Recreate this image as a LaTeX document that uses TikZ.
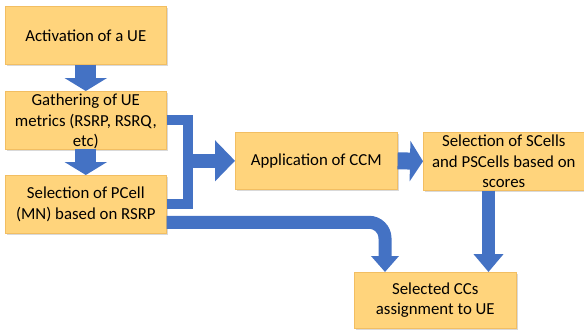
\documentclass[tikz,border=0pt]{standalone}
\usepackage{fontspec}
\setmainfont{Carlito}
\usetikzlibrary{arrows.meta,shadows,calc}
\definecolor{boxfill}{HTML}{FFD47C}
\definecolor{boxline}{HTML}{F2BE62}
\definecolor{arrowblue}{HTML}{4472C4}
\begin{document}
\begin{tikzpicture}[x=1pt,y=-1pt,
  box/.style={draw=boxline, line width=0.6pt, fill=boxfill, anchor=north west,
    inner sep=0pt, align=center, font=\fontsize{16.8}{20.5}\selectfont,
    drop shadow={shadow xshift=1.5pt, shadow yshift=-1.8pt, opacity=0.3}},
  flow/.style={draw=arrowblue, line cap=butt, line join=miter}
]
\useasboundingbox (0,0) rectangle (584,335);
\node[box, minimum width=161pt, minimum height=58pt] (act) at (5,6) {Activation of a UE};
\node[box, minimum width=161pt, minimum height=57pt] (gat) at (5,91) {\strut\\[-20.5pt]Gathering of UE\\metrics (RSRP, RSRQ,\\etc)};
\node[box, minimum width=161pt, minimum height=58pt] (pce) at (5,175) {Selection of PCell\\(MN) based on RSRP};
\node[box, minimum width=162pt, minimum height=57pt] (ccm) at (235,132) {Application of CCM};
\node[box, minimum width=161pt, minimum height=58pt] (sce) at (423,132) {Selection of SCells\\and PSCells based on\\scores};
\node[box, minimum width=162pt, minimum height=56pt] (ccs) at (354,272) {Selected CCs\\assignment to UE};
\coordinate (bar) at (188,0);
\coordinate (dn) at (488.5,0);
\coordinate (cv) at (385,0);
% down arrows
\draw[flow, line width=21pt, -{Triangle[width=42pt,length=13pt]}] (act.south) -- (gat.north);
\draw[flow, line width=21pt, -{Triangle[width=42pt,length=13pt]}] (gat.south) -- (pce.north);
% bracket
\draw[flow, line width=10pt] (gat.east) -- (gat.east -| bar) -- (pce.east -| bar) -- (pce.east);
\draw[flow, line width=14pt, -{Triangle[width=40pt,length=20pt]}] ($(ccm.west -| bar)+(-5,0)$) -- (ccm.west);
% CCM to SCells
\draw[flow, line width=17pt, -{Triangle[width=40pt,length=13pt]}] (ccm.east) -- (sce.west);
% SCells to CCs
\draw[flow, line width=13pt, -{Triangle[width=29pt,length=18pt]}] (sce.south -| dn) -- (ccs.north -| dn);
% curved
\draw[flow, line width=13pt, rounded corners=16pt, -{Triangle[width=27pt,length=16pt]}] ($(pce.east)+(0,18)$) -| (ccs.north -| cv);
\end{tikzpicture}
\end{document}
